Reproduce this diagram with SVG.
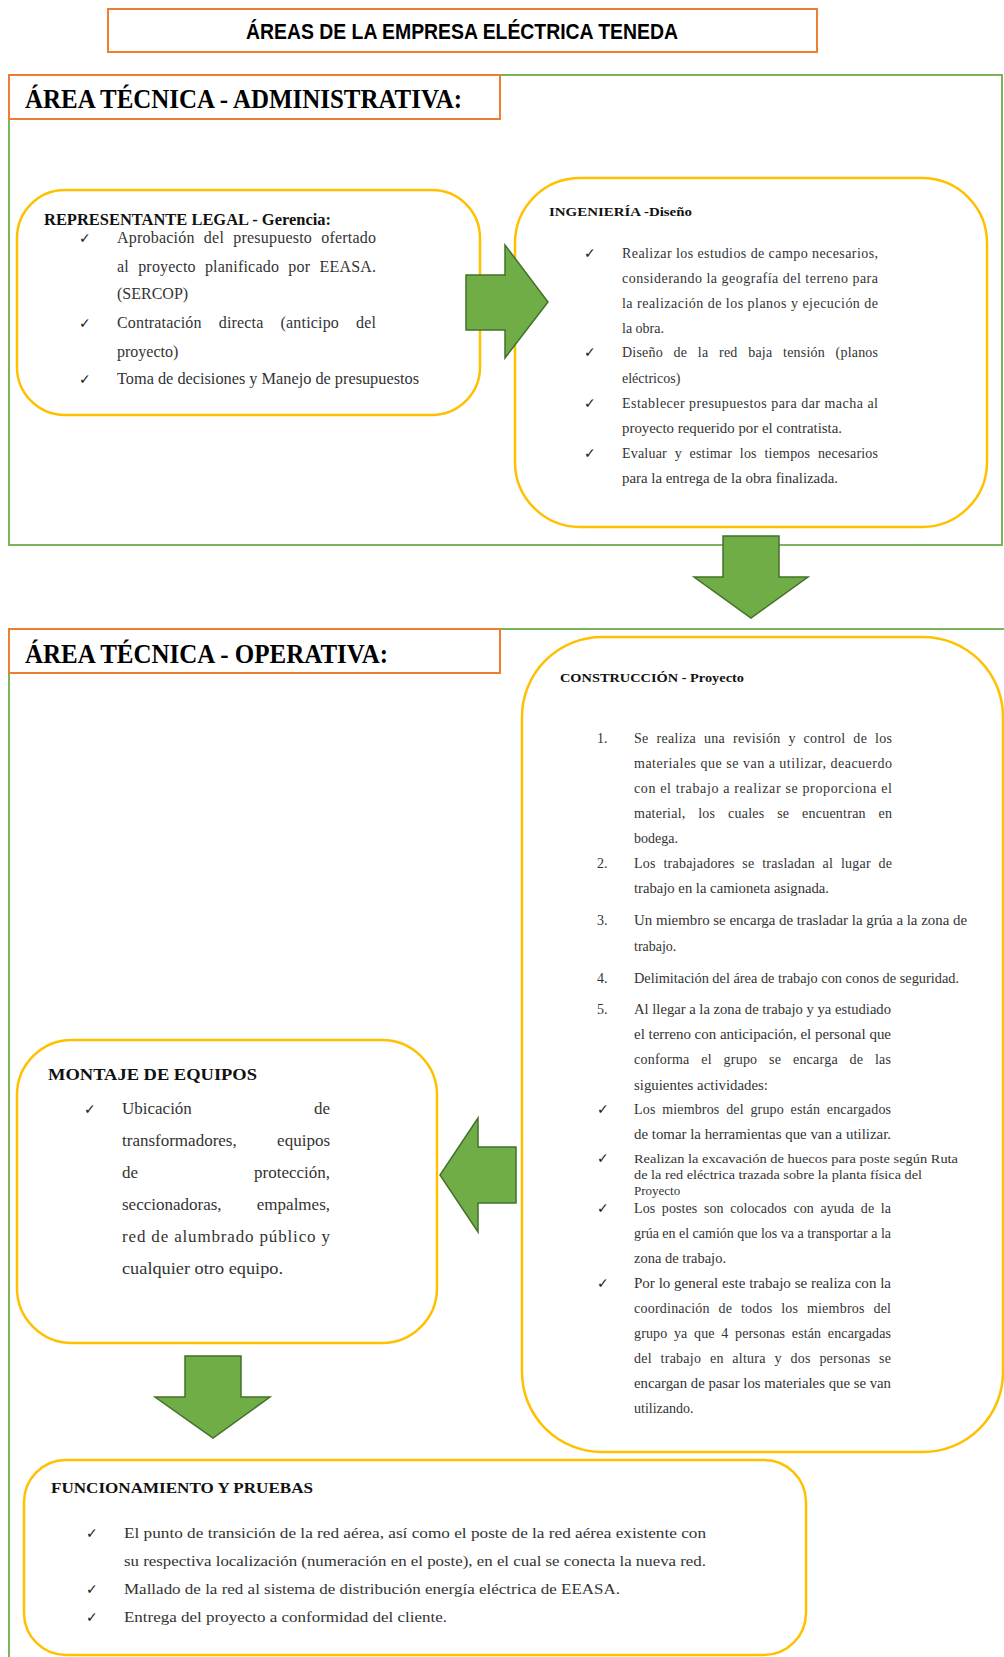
<svg xmlns="http://www.w3.org/2000/svg" width="1004" height="1657" viewBox="0 0 1004 1657">
<style>
.bg{fill:#ffffff}
.area{fill:none;stroke:#7DB35A;stroke-width:2}
.hdr{fill:#ffffff;stroke:#ED7D31;stroke-width:2}
.card{fill:#ffffff;stroke:#FFC000;stroke-width:2.5}
.arrow{fill:#70AD47;stroke:#41712A;stroke-width:1.5;stroke-linejoin:miter}
.title{font-family:"Liberation Sans",Arial,sans-serif;font-weight:bold;font-size:22px;fill:#000}
.big{font-family:"Liberation Serif","Times New Roman",serif;font-weight:bold;font-size:28px;fill:#000}
.h{font-family:"Liberation Serif","Times New Roman",serif;font-weight:bold;fill:#111}
.t{font-family:"Liberation Serif","Times New Roman",serif;fill:#333}
.ck{font-family:"DejaVu Sans",sans-serif;font-size:14px;font-weight:bold;fill:#222}
.s16{font-size:16px}
.s14{font-size:14px}
.s13{font-size:13px}
.s17{font-size:17px}
.s15{font-size:15px}
</style>
<rect class="bg" x="0" y="0" width="1004" height="1657"/>

<g id="areas">
  <rect class="area" x="9" y="75" width="993" height="470"/>
  <rect class="area" x="9" y="629" width="1010" height="1050"/>
</g>

<g id="title">
  <rect class="hdr" x="108" y="9" width="709" height="43"/>
  <text class="title" x="462" y="39" text-anchor="middle" textLength="432" lengthAdjust="spacingAndGlyphs">ÁREAS DE LA EMPRESA ELÉCTRICA TENEDA</text>
</g>

<g id="hdr-admin">
  <rect class="hdr" x="9" y="75" width="491" height="44"/>
  <text class="big" x="25" y="108" textLength="437" lengthAdjust="spacingAndGlyphs">ÁREA TÉCNICA - ADMINISTRATIVA:</text>
</g>

<g id="hdr-oper">
  <rect class="hdr" x="9" y="629" width="491" height="44"/>
  <text class="big" x="25" y="663" textLength="363" lengthAdjust="spacingAndGlyphs">ÁREA TÉCNICA - OPERATIVA:</text>
</g>

<g id="representante">
  <rect class="card" x="17" y="190" width="463" height="225" rx="48" ry="48"/>
  <text class="h s16" x="44" y="225" textLength="287" lengthAdjust="spacingAndGlyphs">REPRESENTANTE LEGAL - Gerencia:</text>
  <text class="ck" x="79" y="243">✓</text>
  <text class="t s16" x="117" y="243" style="word-spacing:5px" textLength="259" lengthAdjust="spacing">Aprobación del presupuesto ofertado</text>
  <text class="t s16" x="117" y="272" style="word-spacing:5px" textLength="259" lengthAdjust="spacing">al proyecto planificado por EEASA.</text>
  <text class="t s16" x="117" y="299">(SERCOP)</text>
  <text class="ck" x="79" y="328">✓</text>
  <text class="t s16" x="117" y="328" style="word-spacing:13px" textLength="259" lengthAdjust="spacing">Contratación directa (anticipo del</text>
  <text class="t s16" x="117" y="357">proyecto)</text>
  <text class="ck" x="79" y="384">✓</text>
  <text class="t s16" x="117" y="384" textLength="302" lengthAdjust="spacingAndGlyphs">Toma de decisiones y Manejo de presupuestos</text>
</g>

<g id="ingenieria">
  <rect class="card" x="515" y="178" width="472" height="349" rx="65" ry="65"/>
  <text class="h s13" x="549" y="216" textLength="143" lengthAdjust="spacingAndGlyphs">INGENIERÍA -Diseño</text>
  <text class="ck" x="584" y="258">✓</text>
  <text class="t s14" x="622" y="258" textLength="256" lengthAdjust="spacing">Realizar los estudios de campo necesarios,</text>
  <text class="t s14" x="622" y="283" textLength="256" lengthAdjust="spacing">considerando la geografía del terreno para</text>
  <text class="t s14" x="622" y="308" textLength="256" lengthAdjust="spacing">la realización de los planos y ejecución de</text>
  <text class="t s14" x="622" y="333">la obra.</text>
  <text class="ck" x="584" y="357">✓</text>
  <text class="t s14" x="622" y="357" style="word-spacing:7px" textLength="256" lengthAdjust="spacing">Diseño de la red baja tensión (planos</text>
  <text class="t s14" x="622" y="383">eléctricos)</text>
  <text class="ck" x="584" y="408">✓</text>
  <text class="t s14" x="622" y="408" textLength="256" lengthAdjust="spacing">Establecer presupuestos para dar macha al</text>
  <text class="t s14" x="622" y="433" textLength="220" lengthAdjust="spacingAndGlyphs">proyecto requerido por el contratista.</text>
  <text class="ck" x="584" y="458">✓</text>
  <text class="t s14" x="622" y="458" style="word-spacing:4px" textLength="256" lengthAdjust="spacing">Evaluar y estimar los tiempos necesarios</text>
  <text class="t s14" x="622" y="483" textLength="216" lengthAdjust="spacingAndGlyphs">para la entrega de la obra finalizada.</text>
</g>

<g id="construccion">
  <rect class="card" x="522" y="637" width="481" height="815" rx="80" ry="80"/>
  <text class="h s13" x="560" y="682" textLength="184" lengthAdjust="spacingAndGlyphs">CONSTRUCCIÓN - Proyecto</text>
  <text class="t s14" x="597" y="743">1.</text>
  <text class="t s14" x="634" y="743" style="word-spacing:4px" textLength="258" lengthAdjust="spacing">Se realiza una revisión y control de los</text>
  <text class="t s14" x="634" y="768" textLength="258" lengthAdjust="spacing">materiales que se van a utilizar, deacuerdo</text>
  <text class="t s14" x="634" y="793" textLength="258" lengthAdjust="spacing">con el trabajo a realizar se proporciona el</text>
  <text class="t s14" x="634" y="818" style="word-spacing:9px" textLength="258" lengthAdjust="spacing">material, los cuales se encuentran en</text>
  <text class="t s14" x="634" y="843">bodega.</text>
  <text class="t s14" x="597" y="868">2.</text>
  <text class="t s14" x="634" y="868" style="word-spacing:4px" textLength="258" lengthAdjust="spacing">Los trabajadores se trasladan al lugar de</text>
  <text class="t s14" x="634" y="893" textLength="195" lengthAdjust="spacingAndGlyphs">trabajo en la camioneta asignada.</text>
  <text class="t s14" x="597" y="925">3.</text>
  <text class="t s14" x="634" y="925" textLength="333" lengthAdjust="spacingAndGlyphs">Un miembro se encarga de trasladar la grúa a la zona de</text>
  <text class="t s14" x="634" y="951">trabajo.</text>
  <text class="t s14" x="597" y="983">4.</text>
  <text class="t s14" x="634" y="983" textLength="325" lengthAdjust="spacingAndGlyphs">Delimitación del área de trabajo con conos de seguridad.</text>
  <text class="t s14" x="597" y="1014">5.</text>
  <text class="t s14" x="634" y="1014" textLength="257" lengthAdjust="spacingAndGlyphs">Al llegar a la zona de trabajo y ya estudiado</text>
  <text class="t s14" x="634" y="1039" textLength="257" lengthAdjust="spacingAndGlyphs">el terreno con anticipación, el personal que</text>
  <text class="t s14" x="634" y="1064" style="word-spacing:8px" textLength="257" lengthAdjust="spacing">conforma el grupo se encarga de las</text>
  <text class="t s14" x="634" y="1090" textLength="134" lengthAdjust="spacingAndGlyphs">siguientes actividades:</text>
  <text class="ck" x="597" y="1114">✓</text>
  <text class="t s14" x="634" y="1114" style="word-spacing:3px" textLength="257" lengthAdjust="spacing">Los miembros del grupo están encargados</text>
  <text class="t s14" x="634" y="1139" textLength="257" lengthAdjust="spacingAndGlyphs">de tomar la herramientas que van a utilizar.</text>
  <text class="ck" x="597" y="1163">✓</text>
  <text class="t s13" x="634" y="1163" textLength="324" lengthAdjust="spacingAndGlyphs">Realizan la excavación de huecos para poste según  Ruta</text>
  <text class="t s13" x="634" y="1179" textLength="288" lengthAdjust="spacingAndGlyphs">de la red eléctrica trazada sobre la planta física del</text>
  <text class="t s13" x="634" y="1195">Proyecto</text>
  <text class="ck" x="597" y="1213">✓</text>
  <text class="t s14" x="634" y="1213" style="word-spacing:3px" textLength="257" lengthAdjust="spacing">Los postes son colocados con ayuda de la</text>
  <text class="t s14" x="634" y="1238" textLength="257" lengthAdjust="spacingAndGlyphs">grúa en el camión que los va a transportar a la</text>
  <text class="t s14" x="634" y="1263" textLength="92" lengthAdjust="spacingAndGlyphs">zona de trabajo.</text>
  <text class="ck" x="597" y="1288">✓</text>
  <text class="t s14" x="634" y="1288" textLength="257" lengthAdjust="spacingAndGlyphs">Por lo general este trabajo se realiza con la</text>
  <text class="t s14" x="634" y="1313" style="word-spacing:5px" textLength="257" lengthAdjust="spacing">coordinación de todos los miembros del</text>
  <text class="t s14" x="634" y="1338" style="word-spacing:3px" textLength="257" lengthAdjust="spacing">grupo ya que 4 personas están encargadas</text>
  <text class="t s14" x="634" y="1363" style="word-spacing:5px" textLength="257" lengthAdjust="spacing">del trabajo en altura y dos personas se</text>
  <text class="t s14" x="634" y="1388" textLength="257" lengthAdjust="spacingAndGlyphs">encargan de pasar los materiales que se van</text>
  <text class="t s14" x="634" y="1413">utilizando.</text>
</g>

<g id="montaje">
  <rect class="card" x="17" y="1040" width="420" height="303" rx="55" ry="55"/>
  <text class="h s17" x="48" y="1080" textLength="209" lengthAdjust="spacingAndGlyphs">MONTAJE DE EQUIPOS</text>
  <text class="ck" x="84" y="1114">✓</text>
  <text class="t s17" x="122" y="1114">Ubicación</text>
  <text class="t s17" x="330" y="1114" text-anchor="end">de</text>
  <text class="t s17" x="122" y="1146">transformadores,</text>
  <text class="t s17" x="330" y="1146" text-anchor="end">equipos</text>
  <text class="t s17" x="122" y="1178">de</text>
  <text class="t s17" x="330" y="1178" text-anchor="end">protección,</text>
  <text class="t s17" x="122" y="1210">seccionadoras,</text>
  <text class="t s17" x="330" y="1210" text-anchor="end">empalmes,</text>
  <text class="t s17" x="122" y="1242" textLength="208" lengthAdjust="spacing">red de alumbrado público y</text>
  <text class="t s17" x="122" y="1274" textLength="161" lengthAdjust="spacingAndGlyphs">cualquier otro equipo.</text>
</g>

<g id="funcionamiento">
  <rect class="card" x="24" y="1460" width="782" height="195" rx="42" ry="42"/>
  <text class="h s15" x="51" y="1493" textLength="262" lengthAdjust="spacingAndGlyphs">FUNCIONAMIENTO Y PRUEBAS</text>
  <text class="ck" x="86" y="1538">✓</text>
  <text class="t s15" x="124" y="1538" textLength="582" lengthAdjust="spacingAndGlyphs">El punto de transición de la red aérea, así como el poste de la red aérea existente con</text>
  <text class="t s15" x="124" y="1566" textLength="582" lengthAdjust="spacingAndGlyphs">su respectiva localización (numeración en el poste), en el cual se conecta la nueva red.</text>
  <text class="ck" x="86" y="1594">✓</text>
  <text class="t s15" x="124" y="1594" textLength="496" lengthAdjust="spacingAndGlyphs">Mallado de la red al sistema de distribución energía eléctrica de EEASA.</text>
  <text class="ck" x="86" y="1622">✓</text>
  <text class="t s15" x="124" y="1622" textLength="323" lengthAdjust="spacingAndGlyphs">Entrega del proyecto a conformidad del cliente.</text>
</g>

<g id="connectors">
  <polygon class="arrow" points="466,275 505,275 505,245 548,302 505,358 505,330 466,330"/>
  <polygon class="arrow" points="723,536 779,536 779,577 808,577 751,618 694,577 723,577"/>
  <polygon class="arrow" points="516,1147 478,1147 478,1118 440,1175 478,1232 478,1203 516,1203"/>
  <polygon class="arrow" points="185,1356 241,1356 241,1397 270,1397 213,1438 155,1397 185,1397"/>
</g>
</svg>
